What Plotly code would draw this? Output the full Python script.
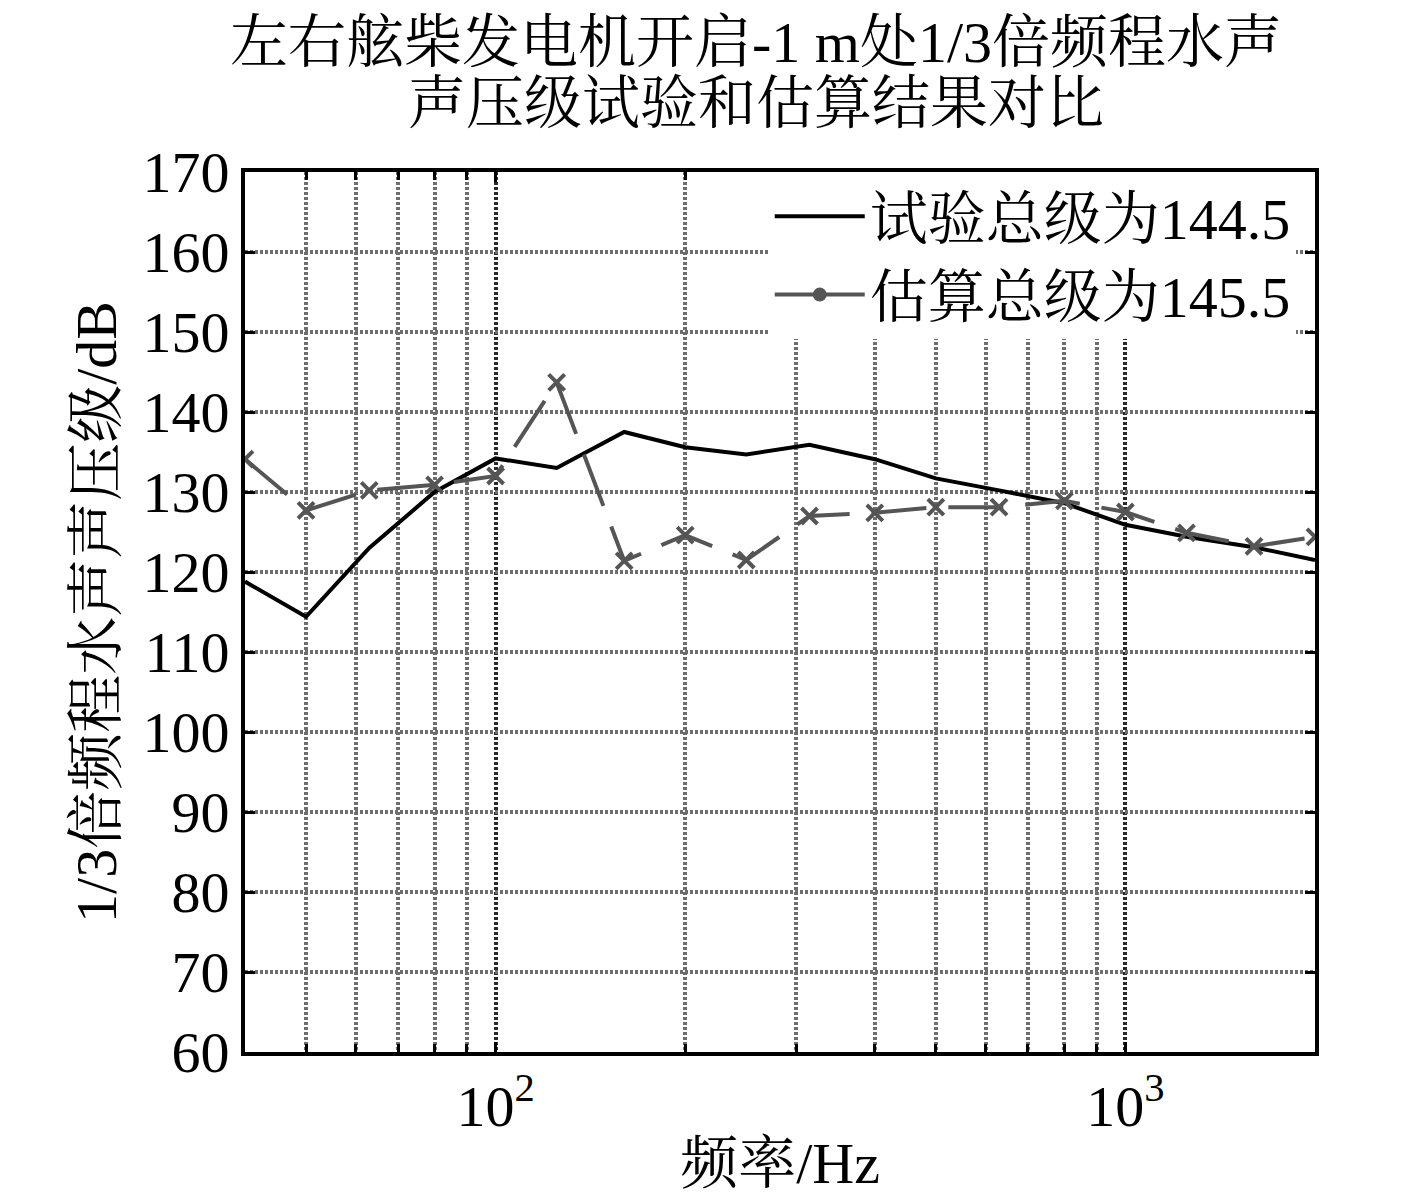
import plotly.graph_objects as go

freq = [40, 50, 63, 80, 100, 125, 160, 200, 250, 315, 400, 500, 630, 800, 1000, 1250, 1600, 2000]
test_spl = [118.8, 114.4, 123.0, 130.0, 134.2, 133.0, 137.5, 135.6, 134.7, 135.9, 134.1, 131.7, 130.2, 128.6, 125.9, 124.4, 123.1, 121.5]
est_spl = [134.1, 127.7, 130.2, 130.9, 132.0, 143.7, 121.4, 124.6, 121.5, 127.0, 127.4, 128.1, 128.1, 128.9, 127.5, 124.9, 123.2, 124.4]
name_test = "试验总级为144.5"
name_est = "估算总级为145.5"
title_lines = ["左右舷柴发电机开启-1 m处1/3倍频程水声", "声压级试验和估算结果对比"]
x_title = "频率/Hz"
y_title = "1/3倍频程水声声压级/dB"
x_major = [100, 1000]
x_major_text = ["10<sup>2</sup>", "10<sup>3</sup>"]
x_minor = [50, 60, 70, 80, 90, 200, 300, 400, 500, 600, 700, 800, 900]
y_ticks = list(range(60, 171, 10))

FONT = "Liberation Serif, Times New Roman, Noto Serif CJK SC, Noto Sans CJK SC, serif"
GRID = "#6e6e6e"
FS = 58

fig = go.Figure()
fig.add_trace(go.Scatter(
    x=freq, y=test_spl, mode="lines", name=name_test,
    line=dict(color="black", width=4),
))
fig.add_trace(go.Scatter(
    x=freq, y=est_spl, mode="lines+markers", name=name_est, showlegend=False,
    line=dict(color="#555555", width=4, dash="55px,22px"),
    marker=dict(symbol="x-thin", size=16, line=dict(color="#555555", width=4), color="#555555"),
))
fig.add_trace(go.Scatter(
    x=[None], y=[None], mode="lines+markers", name=name_est,
    line=dict(color="#555555", width=4),
    marker=dict(symbol="circle", size=14, color="#555555"),
))

fig.update_layout(
    width=1409, height=1190,
    paper_bgcolor="white", plot_bgcolor="white",
    margin=dict(l=237, r=102, t=164, b=146, autoexpand=False),
    font=dict(family=FONT, size=FS, color="black"),
    showlegend=True,
    legend=dict(x=0.982, y=1, xanchor="right", yanchor="top", bgcolor="white",
                borderwidth=0, font=dict(size=FS, family=FONT),
                itemwidth=90, tracegroupgap=0),
)
title_y = [1.147, 1.078]
for txt, yy in zip(title_lines, title_y):
    fig.add_annotation(text=txt, xref="paper", yref="paper", x=0.478, y=yy,
                       xanchor="center", yanchor="middle", showarrow=False,
                       font=dict(size=FS, family=FONT))

fig.update_xaxes(
    type="log", range=[1.60206, 3.30103], automargin=False,
    tickmode="array", tickvals=x_major, ticktext=x_major_text,
    ticks="inside", ticklen=10, tickwidth=3, tickcolor="black",
    showline=True, linecolor="black", linewidth=4, mirror="allticks",
    showgrid=True, gridcolor="#2a2a2a", gridwidth=4, griddash="3px,2px",
    minor=dict(tickmode="array", tickvals=x_minor, ticks="inside", ticklen=8,
               tickwidth=3, tickcolor="black", showgrid=True, gridcolor=GRID,
               gridwidth=4, griddash="3px,2px"),
    title=dict(text=x_title, standoff=6, font=dict(size=FS, family=FONT)),
    tickfont=dict(size=FS, family=FONT),
    zeroline=False,
)
fig.update_yaxes(
    range=[60, 170], tickmode="array", tickvals=y_ticks, automargin=False,
    ticks="inside", ticklen=10, tickwidth=3, tickcolor="black",
    showline=True, linecolor="black", linewidth=4, mirror="allticks",
    showgrid=True, gridcolor=GRID, gridwidth=4, griddash="3px,2px",
    title=dict(text=y_title, standoff=8, font=dict(size=FS, family=FONT)),
    tickfont=dict(size=FS, family=FONT),
    zeroline=False,
)

fig.write_html("out.html")
